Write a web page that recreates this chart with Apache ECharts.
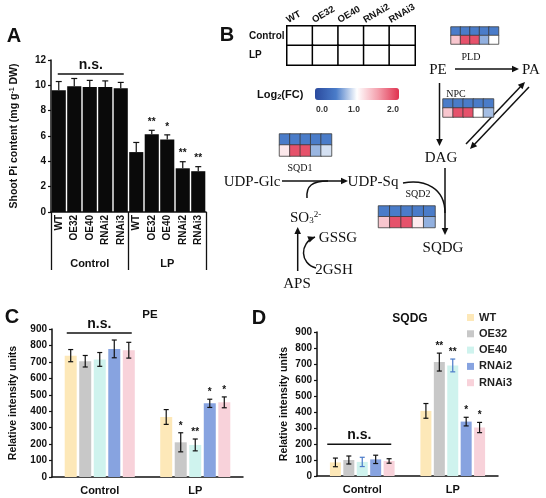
<!DOCTYPE html>
<html>
<head>
<meta charset="utf-8">
<script src="https://cdn.jsdelivr.net/npm/echarts@6/dist/echarts.min.js"></script>
<style>
  html, body { margin: 0; padding: 0; background: #fff; }
  #main { width: 546px; height: 498px; }
</style>
</head>
<body>
<div id="main"></div>
<script>
// ---- panel A : shoot Pi content ----
const piLabels = ['WT', 'OE32', 'OE40', 'RNAi2', 'RNAi3', 'WT', 'OE32', 'OE40', 'RNAi2', 'RNAi3'];
const piGroups = ['Control', 'LP'];
const piValues = [9.62, 9.92, 9.87, 9.87, 9.77, 4.73, 6.13, 5.73, 3.45, 3.22];
const piErrors = [0.68, 0.62, 0.52, 0.48, 0.46, 0.76, 0.32, 0.36, 0.52, 0.36];
const piStars = ['', '', '', '', '', '', '**', '*', '**', '**'];

// ---- panels C / D : lipids (one row per line: [Control, LP]) ----
const lines = ['WT', 'OE32', 'OE40', 'RNAi2', 'RNAi3'];
const conditions = ['Control', 'LP'];
const peValues = [[738, 365], [704, 211], [715, 195], [779, 448], [771, 454]];
const peErrors = [[37, 45], [35, 58], [42, 36], [54, 25], [48, 33]];
const peStars = [['', ''], ['', '*'], ['', '**'], ['', '*'], ['', '*']];
const sqdgValues = [[85, 407], [100, 712], [88, 691], [104, 340], [94, 303]];
const sqdgErrors = [[27, 46], [25, 56], [29, 40], [26, 27], [14, 32]];
const sqdgStars = [['', ''], ['', '**'], ['', '**'], ['', '*'], ['', '*']];

// ---- panel B : log2(FC) heatmaps, rows = [Control, LP] ----
const fcRows = ['Control', 'LP'];
const fcPLD = [[0.5, 0.5, 0.5, 0.5, 0.5], [1.3, 1.85, 1.85, 0.7, 1.0]];
const fcNPC = [[0.5, 0.5, 0.5, 0.5, 0.5], [1.3, 1.85, 1.85, 1.0, 0.75]];
const fcSQD1 = [[0.5, 0.5, 0.5, 0.5, 0.5], [1.12, 1.85, 1.85, 0.72, 0.88]];
const fcSQD2 = [[0.5, 0.5, 0.5, 0.5, 0.5], [1.3, 1.85, 1.85, 1.1, 0.7]];
const fcScale = ['0.0', '1.0', '2.0'];

const SANS = '"Liberation Sans", Arial, sans-serif';
const SERIF = '"Liberation Serif", "Times New Roman", serif';
const BLACK = '#111';
const lineColors = ['#fde8b8', '#c8c8c8', '#cff3ee', '#87a3e0', '#f8d2da'];

let chart = echarts.init(document.getElementById('main'), null, { renderer: 'canvas' });

function valueAxis(grid, max, interval, name, nameGap) {
  return {
    type: 'value', gridIndex: grid, min: 0, max: max, interval: interval,
    name: name, nameLocation: 'middle', nameGap: nameGap,
    nameTextStyle: {
      fontFamily: SANS, fontWeight: 'bold', fontSize: 10.5, color: BLACK,
      rich: { sup: { fontFamily: SANS, fontWeight: 'bold', fontSize: 7, color: BLACK, verticalAlign: 'top' } },
    },
    axisLine: { show: true, lineStyle: { color: BLACK, width: 1.5 } },
    axisTick: { show: true, length: 3, lineStyle: { color: BLACK, width: 1.2 } },
    axisLabel: { fontFamily: SANS, fontWeight: 'bold', fontSize: 10, color: BLACK, margin: 5 },
    splitLine: { show: false },
  };
}

// error bars drawn with the axes' own scale
function errorSeries(name, xIdx, yIdx, values, errors, stars, offset, cap, halfOnly, color, starGap) {
  return {
    type: 'custom', name: name, xAxisIndex: xIdx, yAxisIndex: yIdx, z: 5, silent: true,
    data: values.map((v, i) => [i, v, errors[i]]),
    encode: { x: 0, y: 1 },
    renderItem: function (params, api) {
      const i = api.value(0), v = api.value(1), e = api.value(2);
      const mid = api.coord([i, v]);
      const top = api.coord([i, v + e])[1];
      const x = mid[0] + offset;
      const bot = halfOnly ? mid[1] : api.coord([i, v - e])[1];
      const st = { stroke: color, lineWidth: 1.2 };
      const kids = [
        { type: 'line', shape: { x1: x, y1: top, x2: x, y2: bot }, style: st },
        { type: 'line', shape: { x1: x - cap, y1: top, x2: x + cap, y2: top }, style: st },
      ];
      if (!halfOnly) kids.push({ type: 'line', shape: { x1: x - cap, y1: bot, x2: x + cap, y2: bot }, style: st });
      const s = stars[params.dataIndex];
      if (s) {
        kids.push({ type: 'text', style: { text: s, x: x, y: top - starGap, align: 'center', verticalAlign: 'middle',
          fontFamily: SANS, fontWeight: 'bold', fontSize: 10, fill: BLACK } });
      }
      return { type: 'group', children: kids };
    },
  };
}

function heatData(rows) {
  let out = [];
  rows.forEach((r, ri) => r.forEach((v, ci) => out.push([ci, ri, v])));
  return out;
}

let grids = [
  { left: 51, top: 60, width: 155, height: 152 },      // A
  { left: 52, top: 329, width: 191, height: 148 },     // C
  { left: 317, top: 332, width: 181, height: 144 },    // D
  { left: 287, top: 26, width: 128, height: 39 },      // key table
  { left: 451, top: 27, width: 47.5, height: 17 },     // PLD
  { left: 443, top: 99, width: 50.5, height: 18 },     // NPC
  { left: 279.5, top: 134, width: 52, height: 22 },    // SQD1
  { left: 378.5, top: 206, width: 56.5, height: 21.5 },// SQD2
];
grids.forEach(g => { g.outerBoundsMode = 'none'; g.containLabel = false; });

let xAxes = [
  {
    type: 'category', gridIndex: 0, data: piLabels,
    axisLine: { lineStyle: { color: BLACK, width: 1.5 } },
    axisTick: { length: 38, interval: 0, lineStyle: { color: BLACK, width: 1.3 } },
    axisLabel: { rotate: 90, margin: 3, interval: 0, fontFamily: SANS, fontWeight: 'bold', fontSize: 10, color: BLACK },
  },
  {
    type: 'category', gridIndex: 0, data: piGroups, position: 'bottom', offset: 0,
    axisLine: { show: false },
    axisTick: { show: true, length: 58, interval: 0, lineStyle: { color: BLACK, width: 1.3 } },
    axisLabel: { margin: 46, fontFamily: SANS, fontWeight: 'bold', fontSize: 11, color: BLACK },
  },
];
[1, 2].forEach(g => xAxes.push({
  type: 'category', gridIndex: g, data: conditions,
  axisLine: { lineStyle: { color: BLACK, width: 1.5 } },
  axisTick: { inside: true, length: 4, lineStyle: { color: BLACK, width: 1.3 } },
  axisLabel: { margin: 8, fontFamily: SANS, fontWeight: 'bold', fontSize: 11, color: BLACK },
}));
xAxes.push({
  type: 'category', gridIndex: 3, data: lines, position: 'top',
  axisLine: { show: false }, axisTick: { show: false }, axisLabel: { show: false },
});
[4, 5, 6, 7].forEach(g => xAxes.push({ type: 'category', gridIndex: g, data: lines, show: false }));

let yAxes = [
  valueAxis(0, 12, 2, 'Shoot Pi content (mg g{sup|-1} DW)', 31),
  valueAxis(1, 900, 100, 'Relative intensity units', 33),
  valueAxis(2, 900, 100, 'Relative intensity units', 27),
  {
    type: 'category', gridIndex: 3, data: fcRows, inverse: true,
    axisLine: { show: false }, axisTick: { show: false },
    axisLabel: { align: 'left', margin: 38, fontFamily: SANS, fontWeight: 'bold', fontSize: 10, color: BLACK },
  },
];
[4, 5, 6, 7].forEach(g => yAxes.push({ type: 'category', gridIndex: g, data: fcRows, inverse: true, show: false }));

let series = [];
series.push({
  type: 'bar', name: 'Shoot Pi', xAxisIndex: 0, yAxisIndex: 0, data: piValues,
  barCategoryGap: '9%', itemStyle: { color: '#0a0a0a' }, silent: true,
});
series.push(errorSeries('Pi err', 0, 0, piValues, piErrors, piStars, 0, 3, true, BLACK, 8));

const peStart = series.length;
lines.forEach((ln, i) => series.push({
  type: 'bar', name: ln, xAxisIndex: 2, yAxisIndex: 1, data: peValues[i],
  barWidth: 12, barGap: '21%', itemStyle: { color: lineColors[i] }, silent: true,
}));
lines.forEach((ln, i) => series.push(
  errorSeries('PE err ' + ln, 2, 1, peValues[i], peErrors[i], peStars[i], (i - 2) * 14.52, 2.5, false, BLACK, 7)));

const sqStart = series.length;
lines.forEach((ln, i) => series.push({
  type: 'bar', name: ln, xAxisIndex: 3, yAxisIndex: 2, data: sqdgValues[i],
  barWidth: 11, barGap: '22%', itemStyle: { color: lineColors[i] }, silent: true,
}));
lines.forEach((ln, i) => series.push(
  errorSeries('SQDG err ' + ln, 3, 2, sqdgValues[i], sqdgErrors[i], sqdgStars[i], (i - 2) * 13.42, 2.5, false,
    i === 2 ? '#4a7ac8' : BLACK, 7)));

const keyIdx = series.length;
series.push({
  type: 'heatmap', name: 'key', xAxisIndex: 4, yAxisIndex: 3,
  data: heatData([[0, 0, 0, 0, 0], [0, 0, 0, 0, 0]]), silent: true,
  itemStyle: { color: '#fff', borderColor: '#000', borderWidth: 1.5 },
});
let heatIdx = [];
[fcPLD, fcNPC, fcSQD1, fcSQD2].forEach((fc, k) => {
  heatIdx.push(series.length);
  series.push({
    type: 'heatmap', name: 'fc' + k, xAxisIndex: 5 + k, yAxisIndex: 4 + k, data: heatData(fc), silent: true,
    itemStyle: { borderColor: '#3a3a3a', borderWidth: 0.8 },
  });
});

let option = {
  animation: false,
  backgroundColor: '#fff',
  grid: grids,
  xAxis: xAxes,
  yAxis: yAxes,
  legend: {
    data: lines, orient: 'vertical', left: 467, top: 312, padding: 0,
    icon: 'rect', itemWidth: 7, itemHeight: 7, itemGap: 5.3,
    textStyle: { fontFamily: SANS, fontWeight: 'bold', fontSize: 11, color: '#222' },
    selectedMode: false,
  },
  visualMap: {
    type: 'continuous', min: 0, max: 2, seriesIndex: heatIdx,
    orient: 'horizontal', left: 315, top: 88, padding: 0,
    itemWidth: 12, itemHeight: 84, calculable: false, hoverLink: false,
    inRange: { color: ['#2b4a9e', '#4a7cc9', '#ffffff', '#f4a0ad', '#e0314f'] },
  },
  series: series,
};
chart.setOption(option);

// ---- annotations & pathway drawing ----
function arrowHead(x, y, ang, col) {
  const L = 7, W = 3.3;
  const bx = x - L * Math.cos(ang), by = y - L * Math.sin(ang);
  return { type: 'polygon', silent: true,
    shape: { points: [[x, y], [bx - W * Math.sin(ang), by + W * Math.cos(ang)], [bx + W * Math.sin(ang), by - W * Math.cos(ang)]] },
    style: { fill: col || BLACK } };
}
function arrow(x1, y1, x2, y2) {
  const a = Math.atan2(y2 - y1, x2 - x1);
  return [
    { type: 'line', silent: true, shape: { x1: x1, y1: y1, x2: x2 - 6 * Math.cos(a), y2: y2 - 6 * Math.sin(a) },
      style: { stroke: BLACK, lineWidth: 1.5 } },
    arrowHead(x2, y2, a),
  ];
}
function curve(p, head) {
  let els = [{ type: 'bezierCurve', silent: true,
    shape: { x1: p[0], y1: p[1], cpx1: p[2], cpy1: p[3], cpx2: p[4], cpy2: p[5], x2: p[6], y2: p[7] },
    style: { stroke: BLACK, lineWidth: 1.5, fill: null } }];
  if (head) els.push(arrowHead(p[6], p[7], Math.atan2(p[7] - p[5], p[6] - p[4])));
  return els;
}
function txt(t, x, y, size, fam, weight, extra) {
  return { type: 'text', silent: true, style: Object.assign({
    text: t, x: x, y: y, align: 'center', verticalAlign: 'middle',
    fontFamily: fam, fontSize: size, fontWeight: weight || 'normal', fill: BLACK }, extra || {}) };
}

let g = [];
// panel letters and titles
g.push(txt('A', 14, 36, 20, SANS, 'bold'));
g.push(txt('B', 227, 35, 20, SANS, 'bold'));
g.push(txt('C', 12, 317, 20, SANS, 'bold'));
g.push(txt('D', 259, 318, 20, SANS, 'bold'));
g.push(txt('PE', 150, 315, 11.5, SANS, 'bold'));
g.push(txt('SQDG', 410, 319, 12, SANS, 'bold'));

// n.s. brackets
function ns(seriesIdx, i0, i1, yVal, dl, dr) {
  const p0 = chart.convertToPixel({ seriesIndex: seriesIdx }, [i0, yVal]);
  const p1 = chart.convertToPixel({ seriesIndex: seriesIdx }, [i1, yVal]);
  const x0 = p0[0] + dl, x1 = p1[0] + dr;
  g.push({ type: 'line', silent: true, shape: { x1: x0, y1: p0[1], x2: x1, y2: p0[1] }, style: { stroke: BLACK, lineWidth: 1.5 } });
  g.push(txt('n.s.', (x0 + x1) / 2, p0[1] - 9, 14, SANS, 'bold'));
}
ns(0, 0, 4, 10.9, -1, 3);
ns(peStart, 0, 0, 876, -33, 32);
ns(sqStart, 0, 0, 199, -35, 29);

// slanted column headers of the key table, placed from its own cells
lines.forEach((ln, i) => {
  const c = chart.convertToPixel({ seriesIndex: keyIdx }, [i, 0]);
  g.push({ type: 'text', silent: true, x: c[0] - 10, y: 25, rotation: Math.PI / 6,
    style: { text: ln, x: 0, y: 0, align: 'left', verticalAlign: 'bottom',
      fontFamily: SANS, fontWeight: 'bold', fontSize: 9.5, fill: BLACK } });
});

// colour key
g.push(txt('{a|Log}{s|2}{a|(FC)}', 257, 95, 11, SANS, 'bold', {
  align: 'left',
  rich: { a: { fontFamily: SANS, fontWeight: 'bold', fontSize: 11, fill: BLACK },
          s: { fontFamily: SANS, fontWeight: 'bold', fontSize: 7.5, fill: BLACK, verticalAlign: 'bottom' } },
}));
[322, 354, 393].forEach((x, i) => g.push(txt(fcScale[i], x, 110, 8.5, SANS, 'bold', { fill: '#333' })));

// pathway
const P = 15, S = 10;
g.push(txt('PE', 438, 70, P, SERIF));
g.push(txt('PA', 531, 70, P, SERIF));
g.push(txt('DAG', 441, 158, P, SERIF));
g.push(txt('UDP-Glc', 252, 182, P, SERIF));
g.push(txt('UDP-Sq', 373, 182, P, SERIF));
g.push(txt('GSSG', 338, 238, P, SERIF));
g.push(txt('2GSH', 334, 270, P, SERIF));
g.push(txt('APS', 297, 284, P, SERIF));
g.push(txt('SQDG', 443, 248, P, SERIF));
g.push(txt('{m|SO}{s|3}{p|2-}', 290, 218, P, SERIF, 'normal', {
  align: 'left',
  rich: { m: { fontFamily: SERIF, fontSize: P, fill: BLACK },
          s: { fontFamily: SERIF, fontSize: 9, fill: BLACK, verticalAlign: 'bottom' },
          p: { fontFamily: SERIF, fontSize: 9, fill: BLACK, verticalAlign: 'top' } },
}));
g.push(txt('PLD', 471, 57, S, SERIF));
g.push(txt('NPC', 456, 94, S, SERIF));
g.push(txt('SQD1', 300, 168, S, SERIF));
g.push(txt('SQD2', 418, 194, S, SERIF));

g = g.concat(arrow(455, 69, 519, 69));
g = g.concat(arrow(439.5, 83, 439.5, 146));
g = g.concat(arrow(466, 144, 525, 82));
g = g.concat(arrow(529, 87, 470, 149));
g = g.concat(arrow(282, 181, 348, 181));
g = g.concat(arrow(297.7, 271, 297.7, 227));
g = g.concat(arrow(445, 168, 445, 235));
g = g.concat(curve([307, 198, 306, 186, 312, 181, 328, 181], false));
g = g.concat(curve([316, 268, 300, 264, 299, 243, 315, 237], true));
g = g.concat(curve([403, 183, 425, 179, 445, 188, 445, 213], false));

chart.setOption({ graphic: g });
</script>
</body>
</html>
